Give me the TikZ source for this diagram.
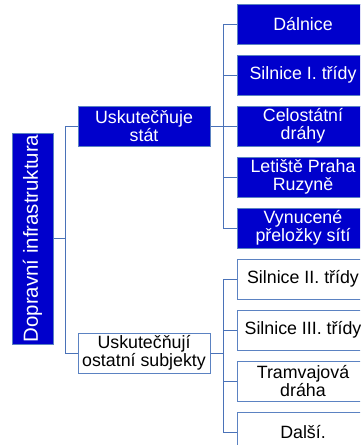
\documentclass[tikz,border=0pt]{standalone}
\usepackage{fontspec}
\setmainfont{Liberation Sans}
\usetikzlibrary{positioning}
\definecolor{boxblue}{HTML}{0000CC}
\definecolor{rimblue}{HTML}{5B82C2}
\definecolor{linkblue}{HTML}{4A72B8}

\begin{document}
\begin{tikzpicture}[x=1pt,y=1pt,node distance=10pt,
		blue box/.style={rectangle,draw=rimblue,line width=1pt,fill=boxblue,text=white,
			minimum width=132pt,minimum height=40pt,inner sep=1pt,align=center,
			font=\fontsize{17.8}{18.5}\selectfont},
		white box/.style={blue box,fill=white,text=black},
		link/.style={draw=linkblue,line width=1pt}]
		
		\clip (0,0) rectangle (360,-445);
		
		\node[blue box,rotate=90,minimum width=211pt,minimum height=41pt,
			font=\fontsize{20.4}{22}\selectfont] (root) at (32.5,-238.5) {Dopravní infrastruktura};
		\node[blue box] (stat) at (144,-126) {Uskutečňuje\\stát};
		\node[white box] (subj) [below=186pt of stat] {Uskutečňují\\ostatní subjekty};
		
		\node[blue box] (drahy) [right=26pt of stat] {Celostátní\\dráhy};
		\node[blue box] (silnice1) [above=of drahy] {Silnice I. třídy};
		\node[blue box] (dalnice) [above=of silnice1] {Dálnice};
		\node[blue box] (letiste) [below=of drahy] {Letiště Praha\\Ruzyně};
		\node[blue box] (prelozky) [below=of letiste] {Vynucené\\přeložky sítí};
		
		\node[white box] (silnice2) [below=of prelozky] {Silnice II. třídy};
		\node[white box] (silnice3) [below=of silnice2] {Silnice III. třídy};
		\node[white box] (tramvaj) [below=of silnice3] {Tramvajová\\dráha};
		\node[white box] (dalsi) [below=of tramvaj] {Další.};
		
		\path[link]
		(root.south) -- ++(12,0) coordinate (t0)
		(t0) |- (stat.west)
		(t0) |- (subj.west)
		(stat.east) -- ++(13,0) coordinate (t1)
		(t1) |- (dalnice.west)
		(t1) |- (silnice1.west)
		(t1) |- (letiste.west)
		(t1) |- (prelozky.west)
		(t1) -- (drahy.west)
		(subj.east) -- ++(13,0) coordinate (t2)
		(t2) |- (silnice2.west)
		(t2) |- (silnice3.west)
		(t2) |- (tramvaj.west)
		(t2) |- (dalsi.west);
\end{tikzpicture}
\end{document}
